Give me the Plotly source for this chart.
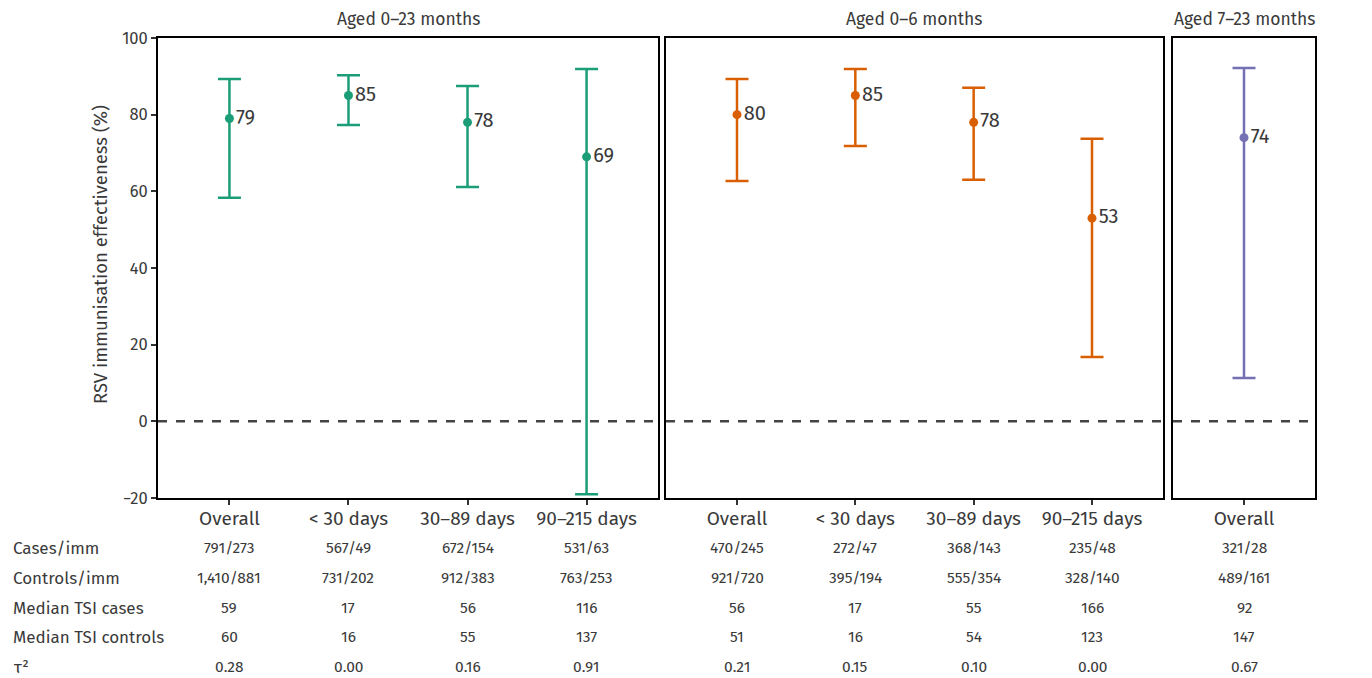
import plotly.graph_objects as go

# ---------------- data ----------------
cats4 = ["Overall", "< 30 days", "30–89 days", "90–215 days"]
cats1 = ["Overall"]

p1_est = [79, 85, 78, 69]
p1_lo = [58.3, 77.3, 61.1, -19.0]
p1_hi = [89.3, 90.3, 87.5, 91.9]

p2_est = [80, 85, 78, 53]
p2_lo = [62.7, 71.8, 63.0, 16.8]
p2_hi = [89.3, 91.9, 87.0, 73.7]

p3_est = [74]
p3_lo = [11.3]
p3_hi = [92.2]

panel_titles = ["Aged 0–23 months", "Aged 0–6 months", "Aged 7–23 months"]
row_labels = ["Cases/imm", "Controls/imm", "Median TSI cases", "Median TSI controls", "τ²"]
y_title = "RSV immunisation effectiveness (%)"

p1_table = [
    ["791/273", "567/49", "672/154", "531/63"],
    ["1,410/881", "731/202", "912/383", "763/253"],
    ["59", "17", "56", "116"],
    ["60", "16", "55", "137"],
    ["0.28", "0.00", "0.16", "0.91"],
]
p2_table = [
    ["470/245", "272/47", "368/143", "235/48"],
    ["921/720", "395/194", "555/354", "328/140"],
    ["56", "17", "55", "166"],
    ["51", "16", "54", "123"],
    ["0.21", "0.15", "0.10", "0.00"],
]
p3_table = [["321/28"], ["489/161"], ["92"], ["147"], ["0.67"]]

colors = ["#1b9e77", "#d95f02", "#7570b3"]

# ---------------- layout geometry ----------------
# page body has an 8px margin, so the figure is drawn offset by 8px
OFF = 8
W, H = 1372 - OFF, 678 - OFF
def fx(px):
    return (px - OFF) / W
def fy(py):
    return 1 - (py - OFF) / H

FONT = "Fira Sans, Noto Sans, Open Sans, sans-serif"
TXT = "#3a3a3a"
panels = [
    dict(cats=cats4, est=p1_est, lo=p1_lo, hi=p1_hi, tab=p1_table, x0=158, x1=658, rng=[-0.6, 3.6]),
    dict(cats=cats4, est=p2_est, lo=p2_lo, hi=p2_hi, tab=p2_table, x0=666, x1=1163, rng=[-0.6, 3.6]),
    dict(cats=cats1, est=p3_est, lo=p3_lo, hi=p3_hi, tab=p3_table, x0=1173, x1=1315, rng=[-0.6, 0.6]),
]
y_top, y_bot = 38, 498
ydom = [fy(y_bot), fy(y_top)]

fig = go.Figure()
annotations = []
shapes = []
row_y = [548, 578, 608, 637, 667]

for i, p in enumerate(panels):
    sfx = "" if i == 0 else str(i + 1)
    xa = "x" + sfx
    ya = "y" + sfx
    est, lo, hi = p["est"], p["lo"], p["hi"]
    fig.add_trace(go.Scatter(
        x=list(range(len(p["cats"]))), y=est,
        mode="markers+text",
        text=[str(v) for v in est],
        textposition="middle right",
        textfont=dict(family=FONT, size=20, color=TXT),
        marker=dict(color=colors[i], size=9),
        error_y=dict(type="data", symmetric=False,
                     array=[h - e for h, e in zip(hi, est)],
                     arrayminus=[e - l for e, l in zip(est, lo)],
                     color=colors[i], thickness=2.5, width=11.5),
        xaxis=xa, yaxis=ya, showlegend=False, cliponaxis=False,
    ))
    dom = [fx(p["x0"]), fx(p["x1"])]
    fig.layout["xaxis" + sfx] = dict(
        domain=dom, range=p["rng"], anchor=ya, automargin=False,
        tickmode="array", tickvals=list(range(len(p["cats"]))), ticktext=p["cats"],
        ticks="outside", ticklen=5, tickwidth=2, tickcolor="#333",
        ticklabelstandoff=-3,
        showline=True, linecolor="black", linewidth=2, mirror=True,
        showgrid=False, zeroline=False,
        tickfont=dict(family=FONT, size=19, color=TXT),
    )
    yax = dict(
        domain=ydom, range=[-20, 100], anchor=xa, automargin=False,
        showline=True, linecolor="black", linewidth=2, mirror=True,
        showgrid=False, zeroline=False,
        tickvals=[-20, 0, 20, 40, 60, 80, 100],
        ticktext=["−20", "0", "20", "40", "60", "80", "100"],
    )
    if i == 0:
        yax.update(ticks="outside", ticklen=5, tickwidth=2, tickcolor="#333",
                   tickfont=dict(family=FONT, size=16.5, color=TXT))
    else:
        yax.update(ticks="", showticklabels=False)
    fig.layout["yaxis" + sfx] = yax

    # dashed zero line
    shapes.append(dict(type="line", xref=xa + " domain", yref=ya, x0=0, x1=1, y0=0, y1=0,
                       line=dict(color="#444", width=2.5, dash="dash")))
    # panel title
    annotations.append(dict(text=panel_titles[i], xref=xa + " domain", yref="paper",
                            x=0.5, y=fy(20), yanchor="middle", showarrow=False,
                            font=dict(family=FONT, size=17.5, color=TXT)))
    # table values
    for r, row in enumerate(p["tab"]):
        for c, val in enumerate(row):
            annotations.append(dict(text=val, xref=xa, yref="paper", x=c, y=fy(row_y[r]),
                                    showarrow=False, xanchor="center", yanchor="middle",
                                    font=dict(family=FONT, size=15.5, color=TXT)))

for r, lab in enumerate(row_labels):
    annotations.append(dict(text=lab, xref="paper", yref="paper", x=fx(11), y=fy(row_y[r]),
                            showarrow=False, xanchor="left", yanchor="middle",
                            font=dict(family=FONT, size=17, color=TXT)))

# y-axis title
annotations.append(dict(text=y_title, xref="paper", yref="paper", x=fx(101), y=fy(255),
                        textangle=-90, showarrow=False, xanchor="center", yanchor="middle",
                        font=dict(family=FONT, size=18.5, color=TXT)))

fig.update_layout(
    width=W, height=H,
    margin=dict(l=0, r=0, t=0, b=0),
    plot_bgcolor="white", paper_bgcolor="white",
    annotations=annotations, shapes=shapes,
)

fig.write_html("out.html")
